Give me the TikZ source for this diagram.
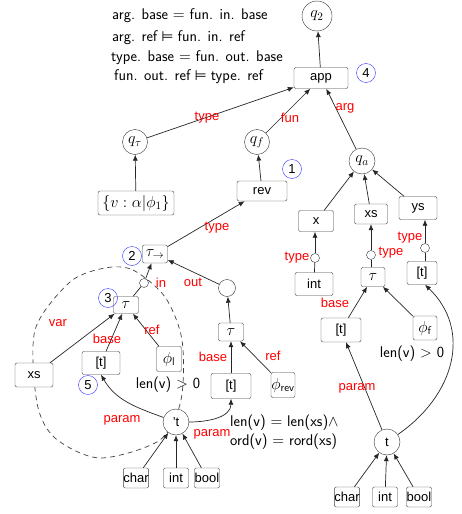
\RequirePackage{fix-cm}
\documentclass[tikz,border=0pt]{standalone}
\usepackage{fontspec}
\setmainfont{Liberation Sans}
\newfontfamily\symf{DejaVu Sans}
\usetikzlibrary{arrows.meta}
\newcommand\myfs{\fontsize{13}{15}\selectfont}
\newcommand\mymf{\fontsize{16}{18}\selectfont}
\newcommand\mysf{\sffamily\fontsize{15.5}{17}\selectfont}
\newcommand\mdl{\hspace{4pt}{\symf\fontsize{14}{16}\selectfont ⊨}\hspace{4pt}}
\begin{document}
\begin{tikzpicture}[x=1pt,y=-1pt,
  bx/.style args={#1/#2}{draw=black!75, rounded corners=2pt, fill=white, inner sep=0pt,
     font=\myfs, minimum width=#1pt, minimum height=#2pt},
  mb/.style={font=\mymf},
  st/.style={draw=black!80, circle, fill=white, minimum size=#1pt, inner sep=0pt, font=\mymf},
  dt/.style={draw=black!80, circle, fill=white, minimum size=9pt, inner sep=0pt},
  num/.style={draw=blue!80, circle, minimum size=19pt, inner sep=0pt, font=\myfs},
  lb/.style={text=red, font=\myfs, inner sep=0pt},
  tx/.style={font=\mysf, inner sep=0pt},
  ar/.style={-{Latex[length=6pt,width=5pt]}, draw=black!85, line width=0.7pt},
  ln/.style={draw=black!85, line width=0.7pt}]
\useasboundingbox (0,0) rectangle (461,514);

% dashed region
\draw[dashed, black!75, line width=0.7pt, dash pattern=on 5pt off 4pt]
  plot[smooth cycle] coordinates {(105,268) (133,270) (165,297) (182,340) (181,400) (160,440)
    (100,458) (55,438) (37,403) (35,330) (70,282)};

% constraint text
\node[tx, anchor=west] (c1) at (112,16) {arg. base $=$ fun. in. base};
\node[tx, anchor=west] (c2) at (112,38) {arg. ref\mdl fun. in. ref};
\node[tx, anchor=west] (c3) at (111,58) {type. base $=$ fun. out. base};
\node[tx, anchor=west] (c4) at (114,77) {fun. out. ref\mdl type. ref};

% top
\node[st=30] (q2) at (317,16) {$q_2$};
\node[bx=54/21] (app) at (321,78) {app};
\node[num] (n4) at (366,73) {4};
\node[st=25] (qt) at (135,142) {$q_\tau$};
\node[st=25] (qf) at (257,142) {$q_f$};
\node[st=26] (qa) at (362,161) {$q_a$};
\node[bx=76/24, mb] (phb) at (136,203) {$\{v:\alpha|\phi_1\}$};
\node[bx=50/20] (rev) at (262,191) {rev};
\node[num] (n1) at (292,169) {1};

\draw[ar] (app) -- (q2);
\draw[ar] (qt) -- (app);
\draw[ar] (qf) -- (app);
\draw[ar] (qa) -- (app);
\draw[ar] (phb) -- (qt);
\draw[ar] (rev) -- (qf);
\node[lb] (l1) at (207,118) {type};
\node[lb] (l2) at (290,118) {fun};
\node[lb] (l3) at (345,108) {arg};

% right column
\node[bx=35/21] (xR) at (316,221) {x};
\node[bx=33/20] (xsR) at (371,214) {xs};
\node[bx=38/23] (ysR) at (418,208) {ys};
\draw[ar] (xR) -- (qa);
\draw[ar] (xsR) -- (qa);
\draw[ar] (ysR) -- (qa);
\node[dt] (dx) at (315,258) {};
\node[dt] (dxs) at (371,255) {};
\node[dt] (dys) at (425,248) {};
\node[bx=38/23] (intR) at (314,284) {int};
\node[bx=24/19, mb] (tauR) at (373,277) {$\tau$};
\node[bx=30/23] (tyR) at (422,273) {[t]};
\draw[ln] (intR) -- (dx);
\draw[ar] (dx) -- (xR.south -| dx);
\draw[ln] (tauR.north -| dxs) -- (dxs);
\draw[ar] (dxs) -- (xsR.south -| dxs);
\draw[ln] (tyR.north -| dys) -- (dys);
\draw[ar] (dys) -- (ysR.south -| dys);
\node[lb] (l4) at (297,258) {type};
\node[lb] (l5) at (391,253) {type};
\node[lb] (l6) at (410,238) {type};

\node[bx=40/24] (tbR) at (341,330) {[t]};
\node[bx=24/24, mb] (phf) at (425,328) {$\phi_{\mathsf{f}}$};
\draw[ar] (tbR) -- (tauR);
\draw[ar] (phf) -- (tauR);
\node[lb] (l7) at (335,303) {base};
\node[tx] (lenR) at (412,354) {len(v) $>$ 0};
\node[st=26] (tR) at (387,442) {\myfs t};
\draw[ar] (tR) -- (tbR);
\node[lb] (l8) at (357,388) {param};
\draw[ar] (tR) .. controls (455,395) and (472,330) .. (tyR.south -| dys);
\node[bx=25/20] (chR) at (347,497) {char};
\node[bx=25/20] (inR) at (385,497) {int};
\node[bx=25/20] (boR) at (419,497) {bool};
\draw[ar] (chR) -- (tR);
\draw[ar] (inR) -- (tR);
\draw[ar] (boR) -- (tR);

% left part
\node[bx=25/18, mb] (tarr) at (155,254) {$\tau_{\rightarrow}$};
\node[num] (n2) at (132,256) {2};
\draw[ar] (tarr) -- (rev);
\node[lb] (l9) at (217,228) {type};
\node[bx=25/17, mb] (tau3) at (126,305) {$\tau$};
\node[num] (n3) at (108,298) {3};
\node[dt] (din) at (144,283) {};
\draw[ln] (tau3) -- (din);
\draw[ar] (din) -- (tarr);
\node[lb] (l10) at (161,283) {in};
\node[st=17] (outc) at (227,288) {};
\draw[ar] (outc) -- (tarr);
\node[lb] (l11) at (193,282) {out};

\node[bx=38/24] (xsL) at (34,375) {xs};
\node[bx=38/23] (tL) at (101,363) {[t]};
\node[bx=25/25, mb] (phl) at (169,359) {$\phi_{\mathsf{l}}$};
\node[num] (n5) at (88,385) {5};
\draw[ar] (xsL) -- (tau3);
\draw[ar] (tL) -- (tau3);
\draw[ar] (phl) -- (tau3);
\node[lb] (l12) at (58,323) {var};
\node[lb] (l13) at (107,339) {base};
\node[lb] (l14) at (152,330) {ref};
\node[tx] (lenL) at (168,385) {len(v) $>$ 0};

\node[bx=25/18, mb] (tauM) at (231,332) {$\tau$};
\node[bx=40/25] (tM) at (231,386) {[t]};
\node[bx=24/25, mb] (phrev) at (283,385) {$\phi_{\mathsf{rev}}$};
\draw[ar] (tauM) -- (outc);
\draw[ar] (tM) -- (tauM);
\draw[ar] (phrev) -- (tauM);
\node[lb] (l15) at (213,357) {base};
\node[lb] (l16) at (273,356) {ref};

\node[st=26] (tq) at (176,422) {\myfs ’t};
\draw[ar] (tq) to[out=160,in=-60] (tL.south);
\draw[ar] (tq) to[out=0,in=-90] (tM.south);
\node[lb] (l17) at (122,420) {param};
\node[lb] (l18) at (212,434) {param};
\node[bx=25/20] (chL) at (136,478) {char};
\node[bx=25/20] (inL) at (176,478) {int};
\node[bx=25/20] (boL) at (207,478) {bool};
\draw[ar] (chL) -- (tq);
\draw[ar] (inL) -- (tq);
\draw[ar] (boL) -- (tq);
\node[tx, anchor=west] (e1) at (230,423) {len(v) $=$ len(xs)$\wedge$};
\node[tx, anchor=west] (e2) at (230,442) {ord(v) $=$ rord(xs)};
\end{tikzpicture}
\end{document}
